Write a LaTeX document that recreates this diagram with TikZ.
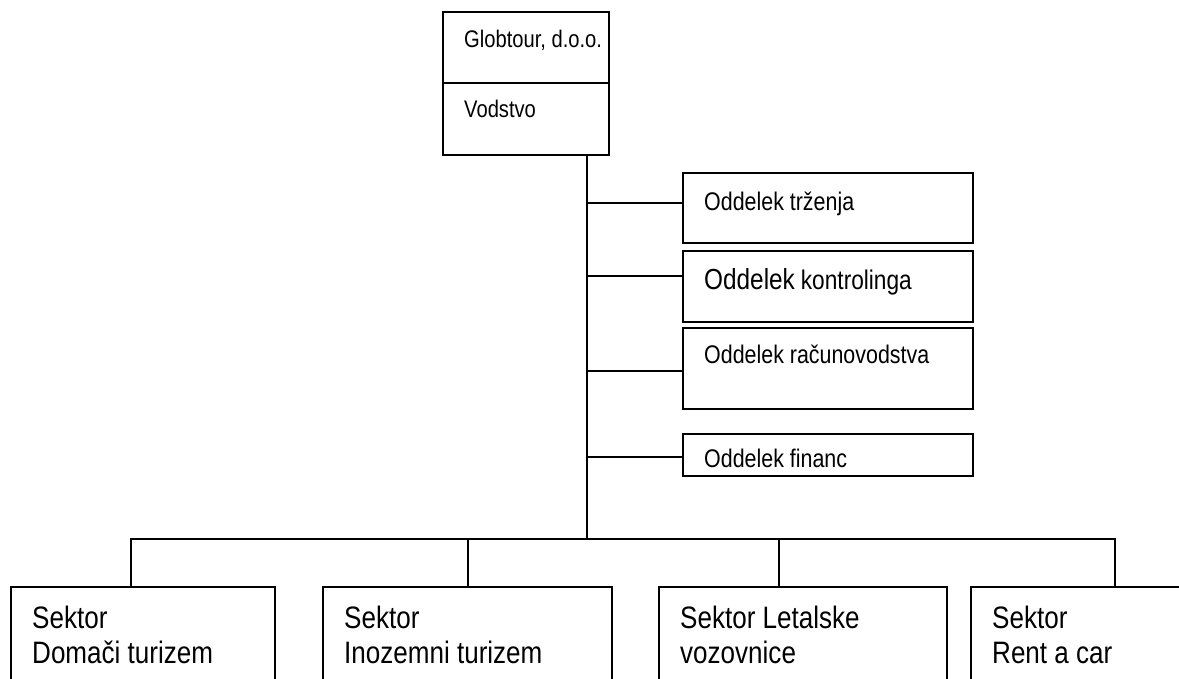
\documentclass[tikz,border=0pt]{standalone}
\usepackage{fontspec}
\setmainfont{Liberation Sans}[FakeStretch=0.84]

\tikzset{
  unit/.style={draw, line width=2pt, rectangle, anchor=north west, inner sep=0pt, outer sep=0pt},
  link/.style={line width=2pt, line cap=rect},
  headtxt/.style={anchor=base west, inner sep=0pt, font=\fontsize{24}{30}\selectfont},
  stafftxt/.style={anchor=base west, inner sep=0pt, font=\fontsize{25.5}{30}\selectfont},
  sectxt/.style={anchor=base west, inner sep=0pt, font=\fontsize{31}{35}\selectfont},
}

\begin{document}
\begin{tikzpicture}[x=1pt, y=-1pt]
  \useasboundingbox (0,0) rectangle (1179,679);
  \fill[white] (0,0) rectangle (1179,679);
  \clip (0,0) rectangle (1179,679);

  % company and management
  \node[unit, minimum width=166pt, minimum height=71pt] (firm) at (443,12) {};
  \node[unit, minimum width=166pt, minimum height=72pt] (vod) at (firm.south west) {};
  \node[headtxt] (firm-t) at ([shift={(21pt,-36pt)}]firm.north west) {Globtour, d.o.o.};
  \node[headtxt] (vod-t) at ([shift={(21pt,-35pt)}]vod.north west) {Vodstvo};

  % staff departments
  \node[unit, minimum width=290pt, minimum height=70pt] (trz) at (683,173) {};
  \node[unit, minimum width=290pt, minimum height=71pt] (kon) at (683,251) {};
  \node[unit, minimum width=290pt, minimum height=81pt] (rac) at (683,328) {};
  \node[unit, minimum width=290pt, minimum height=42pt] (fin) at (683,434) {};
  \node[stafftxt] (trz-t) at ([shift={(21pt,-38pt)}]trz.north west) {Oddelek trženja};
  \node[stafftxt] (kon-t) at ([shift={(21pt,-39pt)}]kon.north west)
    {{\fontsize{29}{30}\selectfont Oddelek} {\fontsize{27}{30}\selectfont kontrolinga}};
  \node[stafftxt] (rac-t) at ([shift={(21pt,-35pt)}]rac.north west) {Oddelek računovodstva};
  \node[stafftxt] (fin-t) at ([shift={(21pt,-33pt)}]fin.north west) {Oddelek financ};

  % trunk and branches to the staff
  \coordinate (trunk) at (587,539);
  \draw[link] (trunk |- vod.south) -- (trunk);
  \foreach \nm/\dy in {trz/5, kon/10.5, rac/-2.5, fin/-2}
    \draw[link] ([yshift=\dy pt]\nm.west) -- ++(-96pt,0);

  % sectors
  \coordinate (busL) at (131,539);
  \coordinate (busR) at (1115,539);
  \draw[link] (busL) -- (busR);
  \foreach \nm/\xl/\bw/\drop/\la/\lb in {
      dom/11/264/131/Sektor/Domači turizem,
      ino/323/289/468/Sektor/Inozemni turizem,
      let/659/288/779/Sektor Letalske/vozovnice,
      rent/971/260/1115/Sektor/Rent a car}{
    \node[unit, minimum width=\bw pt, minimum height=120pt] (\nm) at (\xl,587) {};
    \node[sectxt] (\nm-a) at ([shift={(21pt,-41pt)}]\nm.north west) {\la};
    \node[sectxt] (\nm-b) at ([shift={(21pt,-76pt)}]\nm.north west) {\lb};
    \draw[link] (\drop,539) -- (\drop,0 |- \nm.north);
  }
\end{tikzpicture}
\end{document}
